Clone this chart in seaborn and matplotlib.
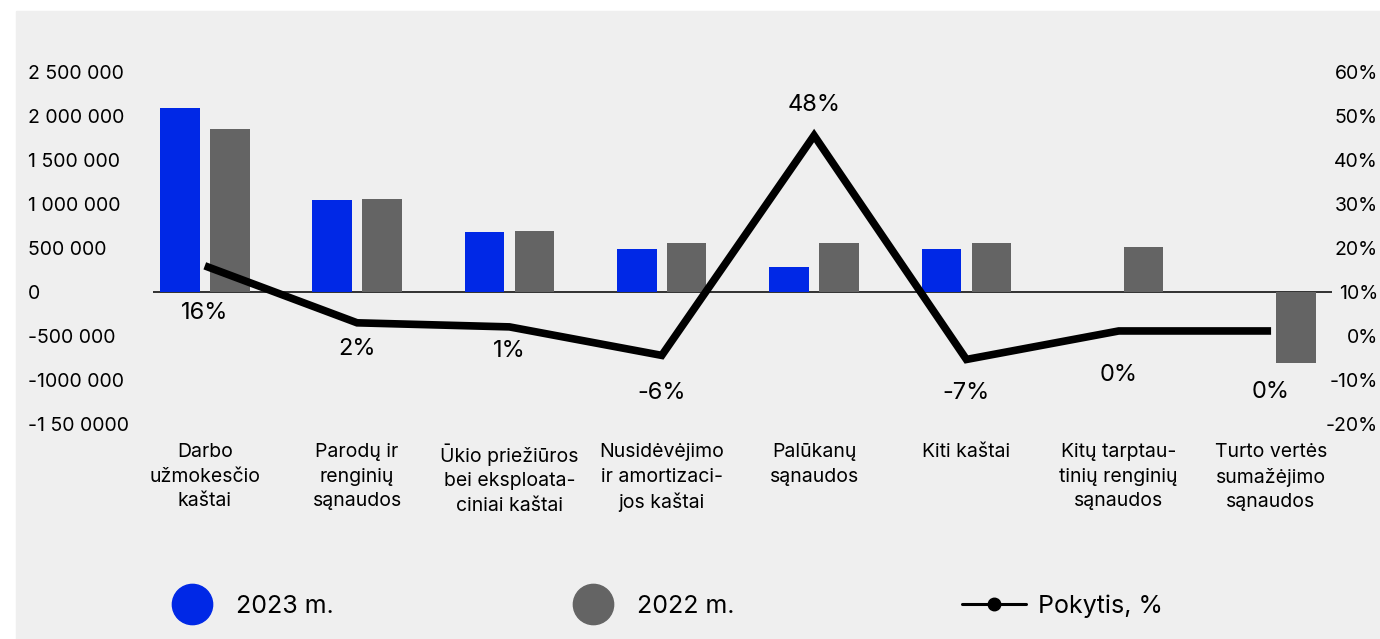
import numpy as np
import pandas as pd
import matplotlib
matplotlib.use("Agg")
import matplotlib.pyplot as plt
from matplotlib.lines import Line2D
from matplotlib.patches import Rectangle
import seaborn as sns

# -------------------------
# DATA
# -------------------------
categories = [
    "Darbo\nužmokesčio\nkaštai",
    "Parodų ir\nrenginių\nsąnaudos",
    "Ūkio priežiūros\nbei eksploata-\nciniai kaštai",
    "Nusidėvėjimo\nir amortizaci-\njos kaštai",
    "Palūkanų\nsąnaudos",
    "Kiti kaštai",
    "Kitų tarptau-\ntinių renginių\nsąnaudos",
    "Turto vertės\nsumažėjimo\nsąnaudos",
]
values_2023 = [2090000, 1045000, 680000, 490000, 280000, 490000, 0, 0]
values_2022 = [1850000, 1057000, 690000, 560000, 560000, 560000, 510000, -810000]
change_pct = [16, 2, 1, -6, 48, -7, 0, 0]

left_ticks = [2500000, 2000000, 1500000, 1000000, 500000, 0, -500000, -1000000, -1500000]
left_tick_labels = ["2 500 000", "2 000 000", "1 500 000", "1 000 000", "500 000",
                    "0", "-500 000", "-1000 000", "-1 50 0000"]
right_tick_labels = ["60%", "50%", "40%", "30%", "20%", "10%", "0%", "-10%", "-20%"]

# label offsets (points, + = below the line point)
label_dy = [34, 19, 17, 27, -22, 24, 32, 44]

BLUE = "#0028e6"
GREY = "#646464"

df = pd.DataFrame({
    "cat": categories * 2,
    "year": ["2023 m."] * 8 + ["2022 m."] * 8,
    "value": values_2023 + values_2022,
})

# -------------------------
# PLOT
# -------------------------
sns.set_style("white")
plt.rcParams["font.family"] = ["Inter", "DejaVu Sans"]
plt.rcParams["text.color"] = "black"
plt.rcParams["xtick.color"] = "black"
plt.rcParams["ytick.color"] = "black"

fig = plt.figure(figsize=(13.8, 6.39), dpi=100)
fig.patch.set_facecolor("white")
fig.add_artist(Rectangle((16 / 1380, 0), 1, (639 - 11) / 639,
                         transform=fig.transFigure, color="#efefef", zorder=-10))

ax = fig.add_axes([153 / 1380, (639 - 424) / 639, 1179 / 1380, 352 / 639])
ax.set_facecolor("none")

sns.barplot(data=df, x="cat", y="value", hue="year", palette=[BLUE, GREY],
            width=0.656, gap=0.21, ax=ax, legend=False, saturation=1, linewidth=0)
ax.axhline(0, color="#222222", lw=1.3, zorder=0.5)

xlim = (-0.34, 7.40)
ax.set_xlim(*xlim)
ax.set_ylim(-1500000, 2500000)
ax.set_yticks(left_ticks)
ax.set_yticklabels(left_tick_labels, ha="left")
ax.tick_params(axis="y", length=0, pad=90, labelsize=14)
ax.tick_params(axis="x", length=0, pad=14, labelsize=14)
for t in ax.get_xticklabels():
    t.set_linespacing(1.45)
    t.set_multialignment("center")
ax.set_xlabel("")
ax.set_ylabel("")
sns.despine(ax=ax, left=True, bottom=True)

# secondary axis for change %
ax2 = ax.twinx()
r_lo, r_hi = -22.85, 63.6
ax2.set_ylim(r_lo, r_hi)
l_lo, l_hi = ax.get_ylim()
r_ticks = [r_lo + (t - l_lo) * (r_hi - r_lo) / (l_hi - l_lo) for t in left_ticks]
ax2.set_yticks(r_ticks)
ax2.set_yticklabels(right_tick_labels, ha="right")
ax2.tick_params(axis="y", length=0, pad=33, labelsize=14)

x_pos = np.arange(len(categories))
sns.lineplot(x=x_pos, y=change_pct, ax=ax2, color="black", lw=5.5,
             solid_joinstyle="miter", solid_capstyle="butt")
ax2.set_xlim(*xlim)
ax2.set_xlabel("")
ax2.set_ylabel("")
for s in ax2.spines.values():
    s.set_visible(False)

for x, v, dy in zip(x_pos, change_pct, label_dy):
    ax2.annotate(f"{v}%", (x, v), xytext=(0, -dy), textcoords="offset points",
                 ha="center", va="center", fontsize=17)

# legend
handles = [
    Line2D([], [], marker="o", ls="", markersize=29, color=BLUE),
    Line2D([], [], marker="o", ls="", markersize=29, color=GREY),
    Line2D([], [], marker="o", color="black", lw=2.2, markersize=9),
]
fig.legend(handles, ["2023 m.", "2022 m.", "Pokytis, %"], ncol=3, frameon=False,
           loc="center left", bbox_to_anchor=(160 / 1380, 33 / 639),
           fontsize=18, handlelength=2.56, handletextpad=0.48, columnspacing=9.1,
           borderpad=0, borderaxespad=0)

fig.savefig("out.png", dpi=100)
